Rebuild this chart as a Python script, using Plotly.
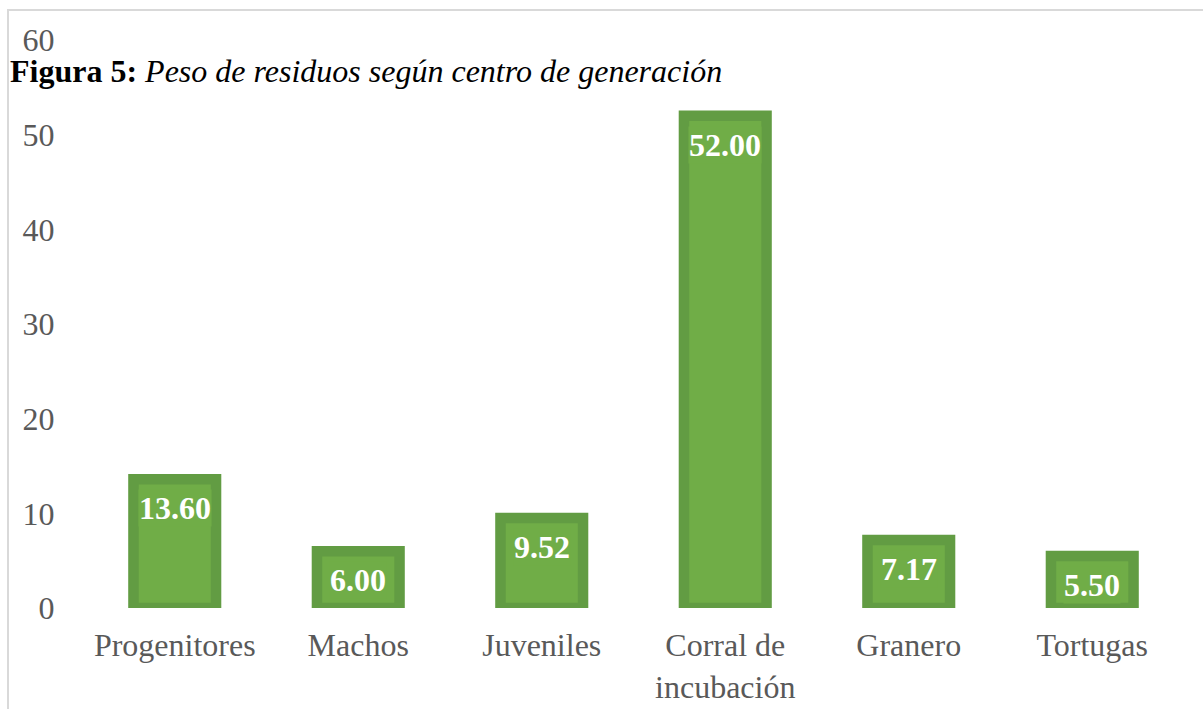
import plotly.graph_objects as go

categories = ["Progenitores", "Machos", "Juveniles", "Corral de<br>incubación", "Granero", "Tortugas"]
values = [13.60, 6.00, 9.52, 52.00, 7.17, 5.50]
value_labels = ["13.60", "6.00", "9.52", "52.00", "7.17", "5.50"]
y_ticks = [0, 10, 20, 30, 40, 50, 60]

W, H = 1203, 709
L, R, T, B = 83, 19, 40, 101
pw, ph = W - L - R, H - T - B

SERIF = "Liberation Serif, Times New Roman, serif"
INNER = "#70ad47"
OUTER = "#629c43"

fig = go.Figure()
fig.add_trace(go.Bar(
    x=categories, y=values, width=0.45,
    marker=dict(color=INNER, line=dict(color=OUTER, width=10.5)),
    hoverinfo="skip",
))

annotations = []
for c, v, t in zip(categories, values, value_labels):
    annotations.append(dict(
        x=c, y=v, xref="x", yref="y", text=f"<b>{t}</b>", showarrow=False,
        yanchor="top", yshift=-10, bgcolor=INNER, borderpad=0,
        font=dict(family=SERIF, size=32, color="white"),
    ))

shapes = [dict(
    type="rect", xref="paper", yref="paper",
    x0=(8 - L) / pw, x1=(W + 20 - L) / pw,
    y0=-(H + 20 - (T + ph)) / ph, y1=(T + ph - 10) / ph,
    line=dict(color="#d9d9d9", width=2), fillcolor="rgba(0,0,0,0)", layer="below",
)]

fig.update_layout(
    width=W, height=H,
    margin=dict(l=L, r=R, t=T, b=B, autoexpand=False),
    paper_bgcolor="white", plot_bgcolor="white",
    showlegend=False,
    title=dict(
        text="<b>Figura 5:</b> <i>Peso de residuos según centro de generación</i>",
        x=10 / W, xanchor="left", xref="container",
        y=1 - 71 / H, yanchor="middle", yref="container",
        font=dict(family=SERIF, size=32, color="black"),
    ),
    xaxis=dict(
        automargin=False,
        showgrid=False, showline=False, zeroline=False,
        ticks="outside", ticklen=9, tickcolor="rgba(0,0,0,0)",
        tickfont=dict(family=SERIF, size=32, color="#595959"),
    ),
    yaxis=dict(
        automargin=False,
        range=[0, 60], tickvals=y_ticks,
        showgrid=False, showline=False, zeroline=False,
        ticks="outside", ticklen=21, tickcolor="rgba(0,0,0,0)",
        tickfont=dict(family=SERIF, size=32, color="#595959"),
    ),
    annotations=annotations,
    shapes=shapes,
)

fig.write_html("out.html")
